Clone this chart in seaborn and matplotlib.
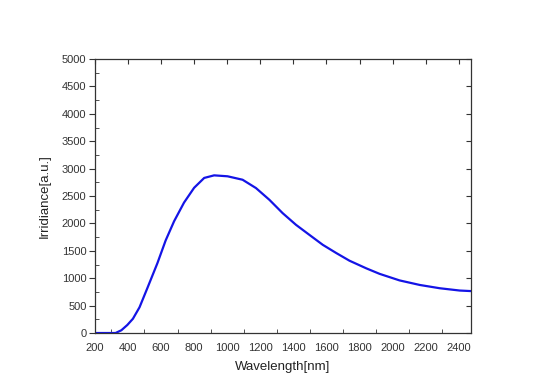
import numpy as np
import pandas as pd
import matplotlib
matplotlib.use("Agg")
import matplotlib.pyplot as plt
import seaborn as sns
from matplotlib.ticker import MultipleLocator

# Spectrum
wavelength = [200, 250, 300, 325, 360, 396, 430, 470, 517, 578, 628, 679, 739,
              800, 861, 921, 1002, 1093, 1174, 1255, 1335, 1416, 1497, 1578,
              1659, 1739, 1841, 1921, 2042, 2164, 2285, 2406, 2475]
irradiance = [0, 0, 0, 0, 50, 146, 260, 470, 817, 1274, 1690, 2040, 2380,
              2650, 2830, 2877, 2860, 2797, 2645, 2431, 2188, 1974, 1791, 1609,
              1460, 1320, 1180, 1080, 960, 877, 817, 775, 765]

df = pd.DataFrame({"Wavelength": wavelength, "Irradiance": irradiance})

sns.set_style("ticks")
plt.rcParams["font.family"] = ["Liberation Sans", "DejaVu Sans"]

fig = plt.figure(figsize=(5.33, 3.87), dpi=100)
ax = fig.add_axes([0.178, 0.1395, 0.706, 0.708])

sns.lineplot(data=df, x="Wavelength", y="Irradiance", color="#1414e6",
             linewidth=1.6, ax=ax)

ax.set_xlim(200, 2475)
ax.set_ylim(0, 5000)
ax.xaxis.set_major_locator(MultipleLocator(200))
ax.xaxis.set_minor_locator(MultipleLocator(100))
ax.yaxis.set_major_locator(MultipleLocator(500))
ax.yaxis.set_minor_locator(MultipleLocator(250))

for s in ax.spines.values():
    s.set_color("#333333")
    s.set_linewidth(0.9)

# Origin-like tick layout
ax.tick_params(axis="x", which="major", direction="in", length=0, pad=7,
               labelsize=8, top=False, colors="#333333", labelcolor="#333333")
ax.tick_params(axis="x", which="minor", direction="in", length=3, top=False,
               bottom=True, colors="#333333")
ax.tick_params(axis="y", which="major", direction="out", length=4, pad=2,
               labelsize=8, colors="#333333", labelcolor="#333333")
ax.tick_params(axis="y", which="minor", direction="in", length=3,
               colors="#333333")

# top and right ticks drawn inward
axt = ax.secondary_xaxis("top")
axt.xaxis.set_major_locator(MultipleLocator(200))
axt.tick_params(direction="in", length=3.5, labeltop=False, colors="#333333")
axt.spines["top"].set_visible(False)
axr = ax.secondary_yaxis("right")
axr.yaxis.set_major_locator(MultipleLocator(500))
axr.tick_params(direction="in", length=3.5, labelright=False, colors="#333333")
axr.spines["right"].set_visible(False)

ax.set_xlabel("Wavelength[nm]", fontsize=9.5, color="#222222", labelpad=6)
ax.set_ylabel("Irridiance[a.u.]", fontsize=9.5, color="#222222", labelpad=8)

fig.savefig("out.png", dpi=100)
